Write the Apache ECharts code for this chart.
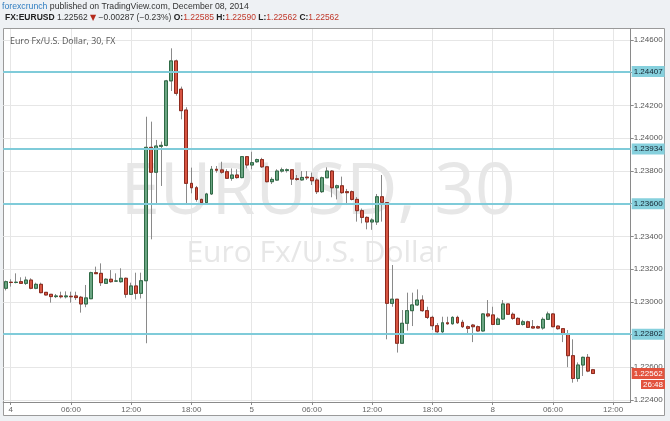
<!DOCTYPE html>
<html>
<head>
<meta charset="utf-8">
<script src="https://cdn.jsdelivr.net/npm/echarts@6/dist/echarts.min.js"></script>
<style>html,body{margin:0;padding:0;background:#eef1f4;}#c{width:670px;height:421px;}</style>
</head>
<body>
<div id="c"></div>
<script>
// ---- data (30-minute candles, EURUSD) ----
var opens = [1.23083,1.23120,1.23118,1.23123,1.23113,1.23133,1.23083,1.23107,1.23058,1.23046,
1.23032,1.23036,1.23031,1.23034,1.23036,1.23028,1.22987,1.23019,1.23178,1.23174,
1.23113,1.23138,1.23127,1.23123,1.23144,1.23046,1.23097,1.23052,1.23129,1.23944,
1.23792,1.23950,1.23956,1.24350,1.24472,1.24299,1.24172,1.23724,1.23697,1.23626,
1.23606,1.23659,1.23810,1.23806,1.23795,1.23755,1.23775,1.23759,1.23887,1.23836,
1.23856,1.23869,1.23825,1.23734,1.23744,1.23799,1.23803,1.23807,1.23752,1.23745,
1.23762,1.23760,1.23744,1.23673,1.23758,1.23799,1.23697,1.23709,1.23673,1.23673,
1.23626,1.23557,1.23516,1.23488,1.23488,1.23642,1.23606,1.22991,1.23016,1.22747,
1.22869,1.22946,1.22981,1.23011,1.22946,1.22905,1.22854,1.22817,1.22872,1.22866,
1.22905,1.22875,1.22848,1.22858,1.22848,1.22822,1.22926,1.22920,1.22862,1.22895,
1.22987,1.22924,1.22899,1.22862,1.22878,1.22848,1.22848,1.22840,1.22893,1.22926,
1.22852,1.22836,1.22803,1.22671,1.22532,1.22614,1.22661,1.22585];
var closes = [1.23123,1.23118,1.23120,1.23113,1.23133,1.23083,1.23107,1.23056,1.23042,1.23032,
1.23036,1.23031,1.23036,1.23031,1.23026,1.22987,1.23024,1.23178,1.23172,1.23117,
1.23138,1.23123,1.23127,1.23144,1.23046,1.23097,1.23052,1.23129,1.23944,1.23792,
1.23952,1.23956,1.24350,1.24472,1.24274,1.24168,1.23724,1.23697,1.23626,1.23606,
1.23659,1.23810,1.23804,1.23792,1.23755,1.23775,1.23759,1.23887,1.23836,1.23850,
1.23869,1.23825,1.23734,1.23748,1.23799,1.23807,1.23807,1.23750,1.23748,1.23760,
1.23758,1.23740,1.23673,1.23758,1.23799,1.23697,1.23709,1.23667,1.23667,1.23626,
1.23557,1.23516,1.23488,1.23500,1.23642,1.23608,1.22991,1.23016,1.22747,1.22869,
1.22946,1.22981,1.23011,1.22946,1.22905,1.22854,1.22817,1.22872,1.22866,1.22905,
1.22872,1.22848,1.22838,1.22848,1.22822,1.22926,1.22914,1.22862,1.22895,1.22987,
1.22924,1.22899,1.22862,1.22878,1.22844,1.22840,1.22840,1.22893,1.22926,1.22848,
1.22836,1.22801,1.22671,1.22532,1.22614,1.22661,1.22577,1.22562];
var lows = [1.23070,1.23093,1.23113,1.23109,1.23103,1.23077,1.23077,1.23052,1.23040,1.22995,
1.23023,1.23021,1.23021,1.22995,1.23011,1.22934,1.22967,1.23017,1.23170,1.23097,
1.23109,1.23117,1.23123,1.23117,1.23025,1.23042,1.23015,1.23021,1.22747,1.23382,
1.23602,1.23708,1.23950,1.24288,1.24260,1.24115,1.23598,1.23663,1.23612,1.23598,
1.23592,1.23653,1.23789,1.23783,1.23753,1.23740,1.23753,1.23755,1.23816,1.23810,
1.23850,1.23818,1.23730,1.23720,1.23740,1.23790,1.23790,1.23714,1.23740,1.23740,
1.23745,1.23714,1.23659,1.23665,1.23758,1.23639,1.23626,1.23660,1.23592,1.23620,
1.23490,1.23480,1.23443,1.23440,1.23470,1.23490,1.22771,1.22970,1.22690,1.22747,
1.22824,1.22852,1.22975,1.22940,1.22895,1.22828,1.22810,1.22805,1.22860,1.22860,
1.22865,1.22840,1.22805,1.22754,1.22818,1.22818,1.22905,1.22858,1.22858,1.22890,
1.22920,1.22890,1.22858,1.22855,1.22840,1.22838,1.22838,1.22830,1.22890,1.22845,
1.22830,1.22754,1.22601,1.22506,1.22512,1.22547,1.22570,1.22562];
var highs = [1.23130,1.23138,1.23174,1.23150,1.23154,1.23144,1.23117,1.23117,1.23060,1.23048,
1.23048,1.23062,1.23064,1.23062,1.23062,1.23036,1.23103,1.23184,1.23215,1.23235,
1.23144,1.23194,1.23174,1.23205,1.23148,1.23117,1.23178,1.23178,1.24131,1.24101,
1.23989,1.23979,1.24356,1.24549,1.24480,1.24315,1.24189,1.23820,1.23708,1.23630,
1.23666,1.23830,1.23830,1.23856,1.23810,1.23815,1.23810,1.23890,1.23890,1.23917,
1.23875,1.23880,1.23830,1.23761,1.23810,1.23820,1.23815,1.23810,1.23775,1.23799,
1.23799,1.23790,1.23755,1.23765,1.23822,1.23805,1.23716,1.23765,1.23690,1.23680,
1.23640,1.23570,1.23522,1.23510,1.23659,1.23775,1.23606,1.23225,1.23016,1.22950,
1.23056,1.23056,1.23076,1.23040,1.22970,1.22915,1.22870,1.22909,1.22909,1.22912,
1.22915,1.22890,1.22855,1.22865,1.22855,1.22930,1.23011,1.22970,1.22905,1.23011,
1.22987,1.22935,1.22905,1.22890,1.22885,1.22889,1.22855,1.22905,1.22940,1.22930,
1.22855,1.22836,1.22828,1.22771,1.22630,1.22665,1.22681,1.22590];

// horizontal support/resistance levels drawn on the chart
var levels = [1.24407, 1.23934, 1.23600, 1.22802];
var lastPrice = 1.22562;
// price scale: labelled range and full visible range of the pane
var tickMin = 1.224, tickMax = 1.246, tickStep = 0.002;
var paneMin = 1.22388, paneMax = 1.24667;

// time axis: session segments [start, number of 30-min slots]
var sessions = [['2014-12-03T23:30', 93], ['2014-12-07T22:00', 32]];

// header texts
var headerPublisher = 'forexcrunch';
var headerPublished = 'published on TradingView.com, December 08, 2014';
var headerSymbol = 'FX:EURUSD';
var headerChange = '\u22120.00287 (\u22120.23%)';
var headerOHLC = {O: '1.22585', H: '1.22590', L: '1.22562', C: '1.22562'};
var chartLabel = 'Euro Fx/U.S. Dollar, 30, FX';
var watermark1 = 'EURUSD, 30';
var watermark2 = 'Euro Fx/U.S. Dollar';
var countdown = '26:48';

// ---- build categories ----
function pad(n){return (n<10?'0':'')+n;}
var categories = [];
sessions.forEach(function(s){
  var parts = s[0].split('T'); var d = parts[0].split('-'); var t = parts[1].split(':');
  var ms = Date.UTC(+d[0], +d[1]-1, +d[2], +t[0], +t[1]);
  for (var k=0;k<s[1];k++){
    var dt = new Date(ms + k*1800000);
    categories.push(dt.getUTCFullYear()+'-'+pad(dt.getUTCMonth()+1)+'-'+pad(dt.getUTCDate())+' '+pad(dt.getUTCHours())+':'+pad(dt.getUTCMinutes()));
  }
});
function isMajor(idx, val){
  var v = categories[idx];
  var hh = +v.substr(11,2), mm = +v.substr(14,2);
  return mm === 0 && hh % 6 === 0;
}
function fmtLabel(val){
  var hm = val.substr(11,5);
  if (hm === '00:00') return String(+val.substr(8,2));
  return hm;
}

var fullData = opens.map(function(o,i){ return [o, closes[i], lows[i], highs[i]]; });
var bodyData = opens.map(function(o,i){ return [o, closes[i], Math.min(o,closes[i]), Math.max(o,closes[i])]; });

var FONT = 'Liberation Sans';
var GRIDC = '#e6e6e6';
var OUTER = '#eef1f4';
var chart = echarts.init(document.getElementById('c'), null, {renderer:'canvas'});
var levelData = levels.map(function(v){ return {yAxis: v}; });
levelData.push({
  yAxis: lastPrice,
  lineStyle: {color: 'rgba(0,0,0,0)', width: 0},
  label: {backgroundColor: '#e2533e', color: '#ffffff'}
});

chart.setOption({
  animation: false,
  backgroundColor: '#ffffff',
  title: [{
    left: 2, top: 2, padding: 0,
    text: '{a|' + headerPublisher + '} {b|' + headerPublished + '}',
    textStyle: {fontWeight: 'normal', fontSize: 8.7, fontFamily: FONT, rich: {
      a: {color: '#2f7dc0', fontSize: 8.7, fontWeight: 'normal', fontFamily: FONT},
      b: {color: '#333333', fontSize: 8.7, fontWeight: 'normal', fontFamily: FONT}
    }}
  }, {
    left: 5, top: 13, padding: 0,
    text: '{k|' + headerSymbol + '} {v|' + lastPrice.toFixed(5) + '} {t|\u25BC} {v|' + headerChange + '} ' +
          '{k|O:}{r|' + headerOHLC.O + '} {k|H:}{r|' + headerOHLC.H + '} {k|L:}{r|' + headerOHLC.L + '} {k|C:}{r|' + headerOHLC.C + '}',
    textStyle: {fontWeight: 'normal', fontSize: 8.5, fontFamily: FONT, rich: {
      k: {color: '#222222', fontSize: 8.5, fontWeight: 'bold', fontFamily: FONT},
      v: {color: '#333333', fontSize: 8.5, fontWeight: 'normal', fontFamily: FONT},
      t: {color: '#b52a1c', fontSize: 8, fontWeight: 'normal', fontFamily: 'DejaVu Sans'},
      r: {color: '#c0392b', fontSize: 8.5, fontWeight: 'normal', fontFamily: FONT}
    }}
  }],
  graphic: [
    // outer page margins (outside the chart frame)
    {type: 'rect', z: -100, silent: true, shape: {x: 0, y: 0, width: 670, height: 28.5}, style: {fill: OUTER}},
    {type: 'rect', z: -100, silent: true, shape: {x: 0, y: 415.5, width: 670, height: 6}, style: {fill: OUTER}},
    {type: 'rect', z: -100, silent: true, shape: {x: 0, y: 0, width: 3.5, height: 421}, style: {fill: OUTER}},
    {type: 'rect', z: -100, silent: true, shape: {x: 664.5, y: 0, width: 6, height: 421}, style: {fill: OUTER}},
    {type: 'rect', z: -90, silent: true, shape: {x: 3.5, y: 28.5, width: 661, height: 387},
     style: {fill: 'none', stroke: '#9a9a9a', lineWidth: 1}},
    {type: 'text', z: -50, silent: true, x: 318, y: 194,
     style: {text: watermark1, fill: '#e7e7e7', font: '71px "Open Sans"', textAlign: 'center', textVerticalAlign: 'middle'}},
    {type: 'text', z: -50, silent: true, x: 317, y: 253,
     style: {text: watermark2, fill: '#e7e7e7', font: '30px "Open Sans"', textAlign: 'center', textVerticalAlign: 'middle'}},
    {type: 'text', z: 10, x: 10, y: 41,
     style: {text: chartLabel, fill: '#555555', font: '8.8px "Open Sans"', textVerticalAlign: 'middle'}},
    {type: 'text', z: 10, x: 641, y: 380,
     style: {text: countdown, fill: '#ffffff', backgroundColor: '#e2533e', padding: [1, 2, 0, 2], font: '8px "Liberation Sans"'}}
  ],
  grid: [
    {left: 3.2, right: 39.3, top: 29, bottom: 19, containLabel: false},
    {left: 3.2, right: 39.3, top: 40, bottom: 21, containLabel: false}
  ],
  xAxis: [{
    type: 'category',
    gridIndex: 0,
    data: categories,
    boundaryGap: true,
    axisLine: {lineStyle: {color: '#8a8a8a'}},
    axisTick: {show: true, alignWithLabel: true, interval: isMajor, length: 3, lineStyle: {color: '#8a8a8a'}},
    axisLabel: {interval: isMajor, formatter: fmtLabel, fontSize: 8, color: '#666666', margin: 4, fontFamily: FONT},
    splitLine: {show: true, interval: isMajor, alignWithLabel: true, lineStyle: {color: GRIDC, width: 1}}
  }, {
    type: 'category',
    gridIndex: 1,
    data: categories,
    boundaryGap: true,
    axisLine: {show: false},
    axisTick: {show: false},
    axisLabel: {show: false},
    splitLine: {show: false}
  }],
  yAxis: [{
    type: 'value',
    gridIndex: 0,
    position: 'right',
    min: paneMin, max: paneMax,
    axisLine: {show: true, lineStyle: {color: '#8a8a8a'}},
    axisTick: {show: false},
    axisLabel: {show: false},
    splitLine: {show: false}
  }, {
    type: 'value',
    gridIndex: 1,
    position: 'right',
    min: tickMin, max: tickMax, interval: tickStep,
    axisLine: {show: false},
    axisTick: {show: true, length: 3, lineStyle: {color: '#8a8a8a'}},
    axisLabel: {formatter: function(v){ return v.toFixed(5); }, fontSize: 8, color: '#555555', margin: 3, fontFamily: FONT},
    splitLine: {show: true, lineStyle: {color: GRIDC, width: 1, type: 'solid'}}
  }],
  series: [{
    type: 'candlestick',
    name: 'wick',
    xAxisIndex: 0, yAxisIndex: 0,
    data: fullData,
    barWidth: 3.4,
    itemStyle: {color: '#8a8a8a', color0: '#8a8a8a', borderColor: '#8a8a8a', borderColor0: '#8a8a8a', borderWidth: 1},
    markLine: {
      silent: true, symbol: 'none', animation: false, precision: 5,
      lineStyle: {color: '#7fcbd9', width: 2, type: 'solid'},
      label: {position: 'end', distance: 1, formatter: function(p){ return Number(p.value).toFixed(5); },
        backgroundColor: '#86d0dd', color: '#13222e', fontSize: 8, fontFamily: FONT, padding: [2, 2, 1, 2]},
      data: levelData
    }
  }, {
    type: 'candlestick',
    name: 'body',
    xAxisIndex: 0, yAxisIndex: 0,
    data: bodyData,
    barWidth: 3.4,
    itemStyle: {color: '#6ba583', color0: '#d75442', borderColor: '#2f6b46', borderColor0: '#8e2a1d', borderWidth: 1}
  }]
});
</script>
</body>
</html>
